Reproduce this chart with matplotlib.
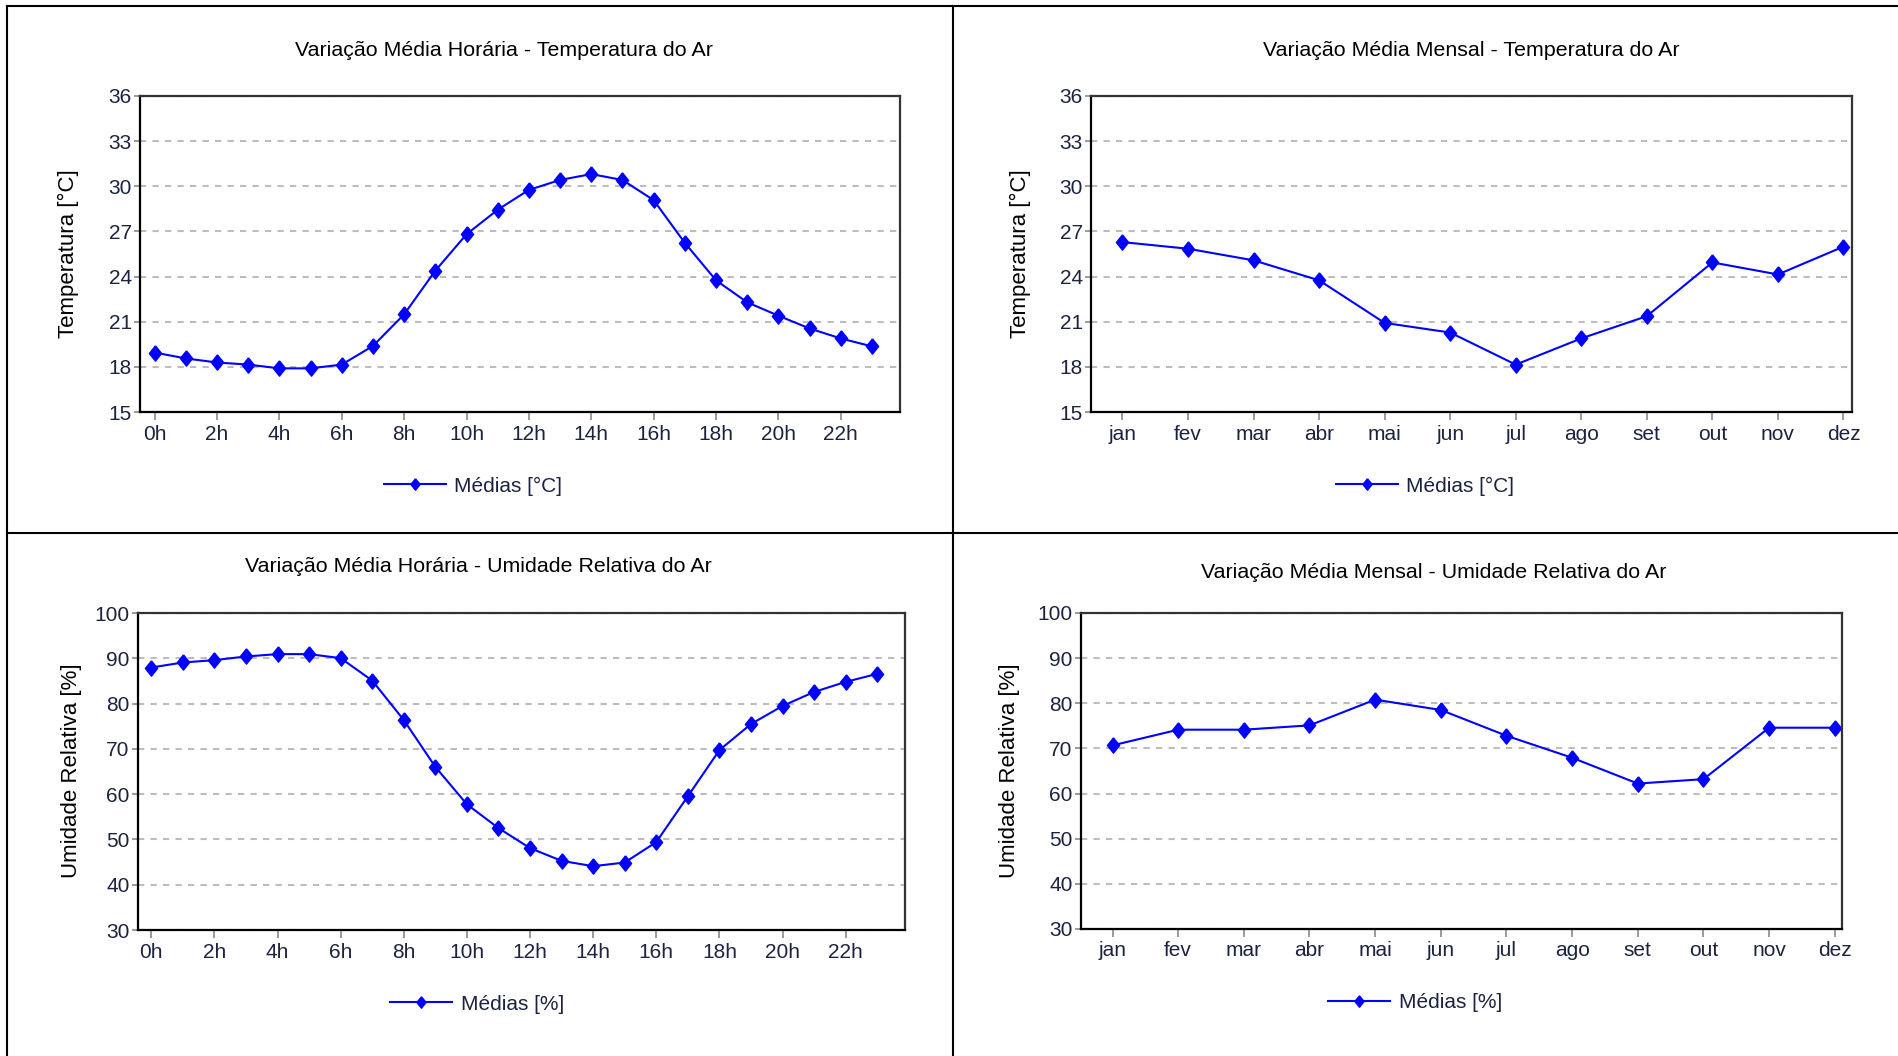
import matplotlib
matplotlib.use("Agg")
import matplotlib.pyplot as plt
from matplotlib.lines import Line2D

plt.rcParams['font.family'] = ['Liberation Sans', 'DejaVu Sans']

horas = list(range(24))
horas_ticks = list(range(0, 24, 2))
horas_labels = [f"{h}h" for h in horas_ticks]
meses = ["jan", "fev", "mar", "abr", "mai", "jun", "jul", "ago", "set", "out", "nov", "dez"]

temp_horaria = [18.95, 18.56, 18.29, 18.15, 17.90, 17.90, 18.15, 19.39, 21.49, 24.39,
                26.81, 28.44, 29.76, 30.42, 30.81, 30.42, 29.08, 26.24, 23.75, 22.29,
                21.40, 20.55, 19.89, 19.36]
temp_mensal = [26.29, 25.85, 25.08, 23.75, 20.92, 20.28, 18.15, 19.89, 21.37, 24.94, 24.14, 25.99]
umid_horaria = [87.96, 89.07, 89.59, 90.40, 90.92, 90.92, 90.03, 85.08, 76.37, 66.03,
                57.75, 52.51, 48.08, 45.27, 44.09, 44.90, 49.41, 59.53, 69.72, 75.48,
                79.47, 82.57, 84.79, 86.56]
umid_mensal = [70.67, 74.15, 74.15, 75.11, 80.81, 78.52, 72.81, 67.93, 62.22, 63.19, 74.59, 74.59]

W, H = 1899, 1056
fig = plt.figure(figsize=(W / 100, H / 100), dpi=100)

diamante = [(0, 1), (0.8, 0), (0, -1), (-0.8, 0), (0, 1)]
AZUL = "#0000ff"
TXT = "#1c2340"


def px_axes(x0, y0, x1, y1):
    return fig.add_axes([x0 / W, 1 - y1 / H, (x1 - x0) / W, (y1 - y0) / H])


def desenha(box, x, y, xticks, xlabels, xlim, ylim, yticks, titulo, tpos, ylabel, ylpos, legenda, lpos):
    ax = px_axes(*box)
    ax.plot(x, y, color=AZUL, lw=1.5, marker=diamante, ms=11, label=legenda)
    ax.set_xlim(*xlim)
    ax.set_ylim(*ylim)
    ax.set_xticks(xticks)
    ax.set_xticklabels(xlabels)
    ax.set_yticks(yticks)
    ax.set_axisbelow(True)
    ax.grid(axis="y", color="#bdbdbd", lw=1.5, linestyle=(0, (3, 3)))
    for s in ["left", "bottom"]:
        ax.spines[s].set_color("#000000")
    for s in ["top", "right"]:
        ax.spines[s].set_color("#333333")
    for s in ax.spines.values():
        s.set_linewidth(1.6)
    ax.tick_params(axis="both", colors="#808080", labelcolor=TXT, labelsize=15,
                   direction="out", width=1.1)
    ax.tick_params(axis="y", length=4, pad=2)
    ax.tick_params(axis="x", length=6, pad=3)
    fig.text(tpos[0] / W, 1 - tpos[1] / H, titulo, ha="center", va="center", fontsize=15.4)
    fig.text(ylpos[0] / W, 1 - ylpos[1] / H, ylabel, ha="center", va="center",
             rotation=90, fontsize=16)
    fig.legend(handles=ax.get_lines(), loc="center", frameon=False,
               bbox_to_anchor=(lpos[0] / W, 1 - lpos[1] / H), fontsize=15,
               handlelength=3.0, handletextpad=0.4, markerscale=0.75,
               labelcolor=TXT)
    return ax


desenha((140, 96, 900, 412), horas, temp_horaria, horas_ticks, horas_labels,
        (-0.47, 23.9), (15, 36), range(15, 37, 3),
        "Variação Média Horária - Temperatura do Ar", (504, 51),
        "Temperatura [°C]", (68, 254), "Médias [°C]", (473, 486))

desenha((1091, 96, 1852, 412), range(12), temp_mensal, range(12), meses,
        (-0.48, 11.13), (15, 36), range(15, 37, 3),
        "Variação Média Mensal - Temperatura do Ar", (1471, 51),
        "Temperatura [°C]", (1020, 254), "Médias [°C]", (1425, 486))

desenha((138, 613, 905, 930), horas, umid_horaria, horas_ticks, horas_labels,
        (-0.42, 23.88), (30, 100), range(30, 101, 10),
        "Variação Média Horária - Umidade Relativa do Ar", (478, 566),
        "Umidade Relativa [%]", (71, 771), "Médias [%]", (477, 1004))

desenha((1081, 613, 1842, 929), range(12), umid_mensal, range(12), meses,
        (-0.48, 11.11), (30, 100), range(30, 101, 10),
        "Variação Média Mensal - Umidade Relativa do Ar", (1434, 573),
        "Umidade Relativa [%]", (1010, 771), "Médias [%]", (1415, 1003))

# molduras dos quadros
bordas = [((7, 6), (W, 6)), ((7, 6), (7, H)), ((953, 6), (953, H)), ((7, 533), (W, 533))]
for (xa, ya), (xb, yb) in bordas:
    fig.add_artist(Line2D([xa / W, xb / W], [1 - ya / H, 1 - yb / H],
                          transform=fig.transFigure, color="black", lw=1.5))

fig.savefig("out.png", dpi=100)
